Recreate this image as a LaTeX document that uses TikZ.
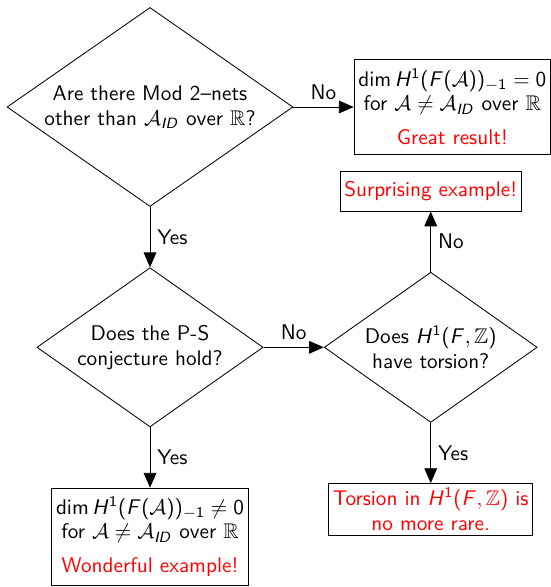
\documentclass[tikz,border=0pt]{standalone}
\usepackage{amsmath, amssymb}
\usetikzlibrary{shapes.geometric, arrows.meta, positioning}
% sans serif letters and digits in math
\DeclareSymbolFont{operators}{OT1}{cmss}{m}{n}
\DeclareSymbolFont{sfletters}{OT1}{cmss}{m}{sl}
\DeclareMathSymbol{H}{\mathalpha}{sfletters}{`H}
\DeclareMathSymbol{F}{\mathalpha}{sfletters}{`F}
\DeclareMathSymbol{I}{\mathalpha}{sfletters}{`I}
\DeclareMathSymbol{D}{\mathalpha}{sfletters}{`D}
\tikzset{
    decision/.style = {diamond, draw, text centered, align=center, aspect=1.43, inner sep=1pt},
    block/.style = {rectangle, draw, text centered, align=center, inner sep=2pt},
    line/.style = {draw, -{Triangle[length=7pt, width=6pt]}},
    result/.style = {text=red}
}

\begin{document}
\begin{tikzpicture}[node distance=1cm, font=\sffamily]
    \useasboundingbox (-2.487, 1.774) rectangle (6.632, -7.958);
    % Questions
    \node [decision, minimum width=4.74cm, minimum height=3.30cm] (nets) {Are there Mod 2--nets\\ other than $\mathcal{A}_{ID}$ over $\mathbb{R}$?};
    \node [decision, below=of nets, minimum width=3.75cm, minimum height=2.64cm] (ps) {Does the P-S\\ conjecture hold?};
    \node [decision, right=of ps, minimum width=3.53cm, minimum height=2.49cm] (torsion) {Does $H^1(F,\mathbb{Z})$\\ have torsion?};

    % Answers
    \node [block, right=of nets, minimum width=2.54cm, minimum height=1.58cm] (great) {$\dim H^1(F(\mathcal{A}))_{-1}=0$\\[-0.5pt] for $\mathcal{A}\neq\mathcal{A}_{ID}$ over $\mathbb{R}$\\[4pt] \textcolor{red}{Great result!}};
    \node [block, result, above=of torsion, minimum width=2.95cm, minimum height=0.66cm] (surprise) {Surprising example!};
    \node [block, result, below=of torsion, minimum width=3.28cm, minimum height=0.78cm] (rare) {Torsion in $H^1(F,\mathbb{Z})$ is\\ no more rare.};
    \node [block, below=of ps, minimum width=3.22cm, minimum height=1.62cm] (wonder) {$\dim H^1(F(\mathcal{A}))_{-1}\neq 0$\\[-0.5pt] for $\mathcal{A}\neq\mathcal{A}_{ID}$ over $\mathbb{R}$\\[4pt] \textcolor{red}{Wonderful example!}};

    % Edges
    \path [line] (nets) -- node[midway, above] {No} (great);
    \path [line] (nets) -- node[midway, right] {Yes} (ps);
    \path [line] (ps) -- node[midway, above] {No} (torsion);
    \path [line] (ps) -- node[midway, right] {Yes} (wonder);
    \path [line] (torsion) -- node[midway, right] {No} (surprise);
    \path [line] (torsion) -- node[midway, right] {Yes} (rare);
\end{tikzpicture}
\end{document}
